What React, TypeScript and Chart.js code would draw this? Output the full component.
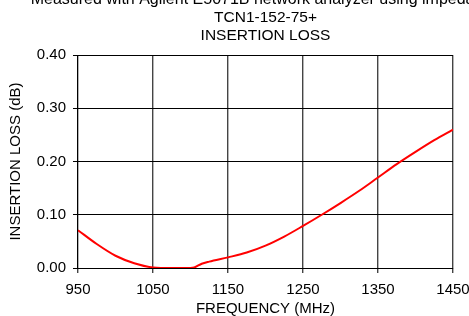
import React, { useEffect, useRef } from "react";
import { Chart, registerables } from "chart.js";

Chart.register(...registerables);

const titleLine1 = "Measured with Agilent E5071B network analyzer using impedance";
const titleLines = ["TCN1-152-75+", "INSERTION LOSS"];
const xAxisTitle = "FREQUENCY (MHz)";
const yAxisTitle = "INSERTION LOSS (dB)";

const frequencyMHz = [950, 975, 1000, 1025, 1050, 1075, 1100, 1105, 1115, 1125, 1150, 1175, 1200, 1225, 1250, 1275, 1300, 1325, 1350, 1375, 1400, 1425, 1450];
const insertionLossDb = [0.071, 0.045, 0.023, 0.009, 0.001, 0.0, 0.0, 0.001, 0.008, 0.012, 0.02, 0.029, 0.042, 0.059, 0.079, 0.1, 0.122, 0.145, 0.17, 0.195, 0.218, 0.24, 0.26];

const xMin = 950;
const xMax = 1450;
const xStep = 100;
const yMin = 0;
const yMax = 0.4;
const yStep = 0.1;

const FONT = "'Liberation Sans', Arial, Helvetica, sans-serif";

const centerTitles = {
  id: "centerTitles",
  afterLayout(chart: any) {
    const ca = chart.chartArea;
    const cx = (ca.left + ca.right) / 2;
    chart.boxes.forEach((b: any) => {
      if (b.position === "top" && b.axis === undefined) {
        b.left = cx - 320;
        b.right = cx + 320;
        b.width = 640;
      }
    });
  },
};

export default function App() {
  const ref = useRef<HTMLCanvasElement | null>(null);
  useEffect(() => {
    if (!ref.current) return;
    const chart = new Chart(ref.current, {
      type: "line",
      data: {
        datasets: [
          {
            data: frequencyMHz.map((f, i) => ({ x: f, y: insertionLossDb[i] })),
            borderColor: "#ff0000",
            borderWidth: 2,
            pointRadius: 0,
            fill: false,
            cubicInterpolationMode: "monotone",
          },
        ],
      },
      options: {
        animation: false,
        responsive: false,
        maintainAspectRatio: false,
        layout: { padding: { left: 0, right: 37, top: 0, bottom: 0 } },
        plugins: {
          legend: { display: false },
          tooltip: { enabled: false },
          subtitle: {
            display: true,
            text: titleLine1,
            color: "#000",
            font: { family: FONT, size: 16, weight: "normal", lineHeight: 1.125 },
            padding: { top: 10.5, bottom: 0 },
            weight: 3000,
          } as any,
          title: {
            display: true,
            text: titleLines,
            color: "#000",
            font: { family: FONT, size: 15.5, weight: "normal", lineHeight: 18 / 15.5 },
            padding: { top: 0, bottom: 10.5 },
          },
        },
        scales: {
          x: {
            type: "linear",
            min: xMin,
            max: xMax,
            ticks: {
              stepSize: xStep,
              color: "#000",
              padding: 8,
              maxRotation: 0,
              font: { family: FONT, size: 15 },
              callback: (v: any) => String(v),
            },
            grid: { color: "#444", lineWidth: 1.4, tickLength: 5, drawTicks: true },
            border: { color: "#000", width: 1 },
            title: {
              display: true,
              text: xAxisTitle,
              color: "#000",
              font: { family: FONT, size: 15, lineHeight: 1.2 },
              padding: { top: -7, bottom: 0 },
            },
          },
          y: {
            type: "linear",
            min: yMin,
            max: yMax,
            ticks: {
              stepSize: yStep,
              color: "#000",
              padding: 7,
              font: { family: FONT, size: 15 },
              callback: (v: any) => Number(v).toFixed(2),
            },
            grid: { color: "#000", lineWidth: 1, tickLength: 5, drawTicks: true },
            border: { color: "#000", width: 1 },
            title: {
              display: true,
              text: yAxisTitle,
              color: "#000",
              font: { family: FONT, size: 15, lineHeight: 1.2 },
              padding: { top: 6.5, bottom: 5.3 },
            },
          },
        },
      },
      plugins: [centerTitles],
    });
    return () => chart.destroy();
  }, []);
  return (
    <div style={{ position: "absolute", left: 0, top: -20, width: 490, height: 338, overflow: "visible" }}>
      <canvas ref={ref} width={490} height={338} style={{ display: "block", width: 490, height: 338 }} />
    </div>
  );
}
